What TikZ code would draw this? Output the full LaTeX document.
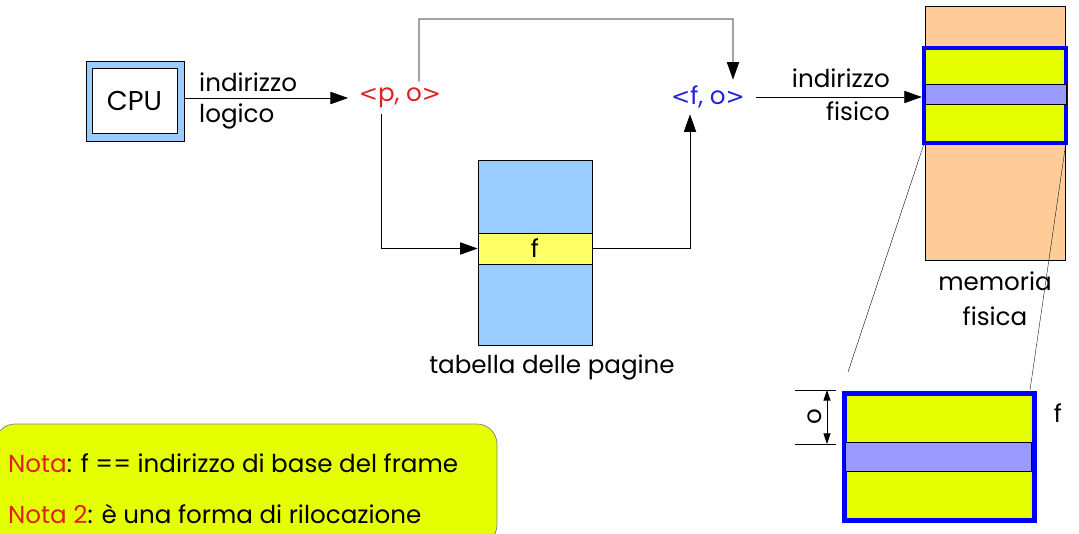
\documentclass[tikz,border=0pt]{standalone}
\usepackage{fontspec}
\setmainfont{Poppins}
\newfontfamily\bracketfont{DejaVu Sans}
\usetikzlibrary{arrows.meta, positioning, calc}

\definecolor{cpublue}{HTML}{99CCFF}
\definecolor{rowyellow}{HTML}{FFFF66}
\definecolor{memorange}{HTML}{FFCC99}
\definecolor{frameyellow}{HTML}{E6FF00}
\definecolor{stripe}{HTML}{9999FF}
\definecolor{pored}{HTML}{E02020}
\definecolor{foblue}{HTML}{2020E0}

\newcommand{\lt}{{\bracketfont\fontsize{13}{15}\selectfont<}}
\newcommand{\gt}{{\bracketfont\fontsize{13}{15}\selectfont>}}

\begin{document}
\begin{tikzpicture}[x=0.02cm, y=-0.02cm,
    every node/.style={font=\fontsize{14}{17}\selectfont},
    plainbox/.style={draw, rectangle, thin, inner sep=0pt},
    framebox/.style={draw=blue, rectangle, line width=2.5pt, fill=frameyellow, inner sep=0pt},
    stripebox/.style={draw, rectangle, thin, fill=stripe, inner sep=0pt},
    arrow/.style={-{Triangle[length=10pt, width=7pt]}, thin}
]
    \useasboundingbox (0,0) rectangle (1079,534);

    % CPU
    \node (cpu) [plainbox, fill=cpublue, minimum width=1.96cm, minimum height=1.6cm] at (135,101) {};
    \node (cpuin) [plainbox, fill=white, minimum width=1.7cm, minimum height=1.3cm, font=\fontsize{15.5}{18}\selectfont] at (134.5,100.5) {CPU};

    % Addresses
    \node (po) [text=pored, inner xsep=6pt] at (400,98) {\lt p, o\gt};
    \node (fo) [text=foblue, inner xsep=6pt] at (708,97) {\lt f, o\gt};

    % Page table
    \node (table) [plainbox, fill=cpublue, minimum width=2.28cm, minimum height=3.7cm] at (535,252.5) {};
    \node (frow) [plainbox, fill=rowyellow, minimum width=2.28cm, minimum height=0.62cm] at (535,248.5) {f};
    \node (tablabel) [below=2pt of table, xshift=0.34cm] {tabella delle pagine};

    % Physical memory
    \node (mem) [plainbox, fill=memorange, minimum width=2.8cm, minimum height=5.08cm] at (995,133) {};
    \node (mframe) [framebox, minimum width=2.84cm, minimum height=1.9cm] at (995,95.5) {};
    \node (mstripe) [stripebox, minimum width=2.82cm, minimum height=0.4cm] at (995.5,94) {};
    \node (memlabel) [below=3pt of mem, align=center] {memoria\\[3pt]fisica};

    % Enlarged frame
    \node (zframe) [framebox, line width=2.8pt, minimum width=3.8cm, minimum height=2.55cm] at (939.5,457) {};
    \node (zstripe) [stripebox, minimum width=3.72cm, minimum height=0.58cm] at (938,456.5) {};
    \node (flabel) at (1058,413) {f};

    % Offset dimension
    \coordinate (dimtop) at (795,390);
    \coordinate (dimbot) at (795,444);
    \draw [thin] (dimtop) -- ++(41,0);
    \draw [thin] (dimbot) -- ++(41,0);
    \draw [{Triangle[length=6pt, width=4pt]}-{Triangle[length=6pt, width=4pt]}, thin] ($(dimtop)+(32,0)$) -- ($(dimbot)+(32,0)$);
    \node (olabel) [rotate=90] at (815,417) {o};

    % Zoom lines
    \coordinate (zl) at (848,372);
    \coordinate (zr) at (1030,390);
    \draw [very thin] ([xshift=1pt]mframe.south west) -- (zl);
    \draw [very thin] ([xshift=-1.5pt]mframe.south east) -- (zr);

    % Connections
    \draw [arrow] (po.west -| cpu.east) -- (po.west);
    \node (lindir) [anchor=west] at (193,82) {indirizzo};
    \node (llog) [anchor=west] at (193,116) {logico};

    \coordinate (topturn) at (733,19);
    \draw [arrow] ([xshift=0.38cm]po.north) |- (topturn) -- ([xshift=0.5cm]fo.north);
    \draw [arrow] ([xshift=-0.38cm]po.south) |- (frow.west);
    \draw [arrow] (frow.east) -| ([xshift=-0.36cm]fo.south);
    \draw [arrow] (fo.east) -- (fo.east -| mframe.west);
    \node (pindir) [anchor=east] at (896,78) {indirizzo};
    \node (pfis) [anchor=east] at (896,111) {fisico};

    % Notes
    \node (notes) [draw=gray, fill=frameyellow, rounded corners=0.4cm, minimum width=10.04cm, minimum height=2.42cm, inner sep=0pt] at (246,484.5) {};
    \node (nota1) [anchor=west] at (2,463) {\textcolor{pored}{Nota}: f == indirizzo di base del frame};
    \node (nota2) [anchor=west] at (2,514) {\textcolor{pored}{Nota 2}: è una forma di rilocazione};
\end{tikzpicture}
\end{document}
